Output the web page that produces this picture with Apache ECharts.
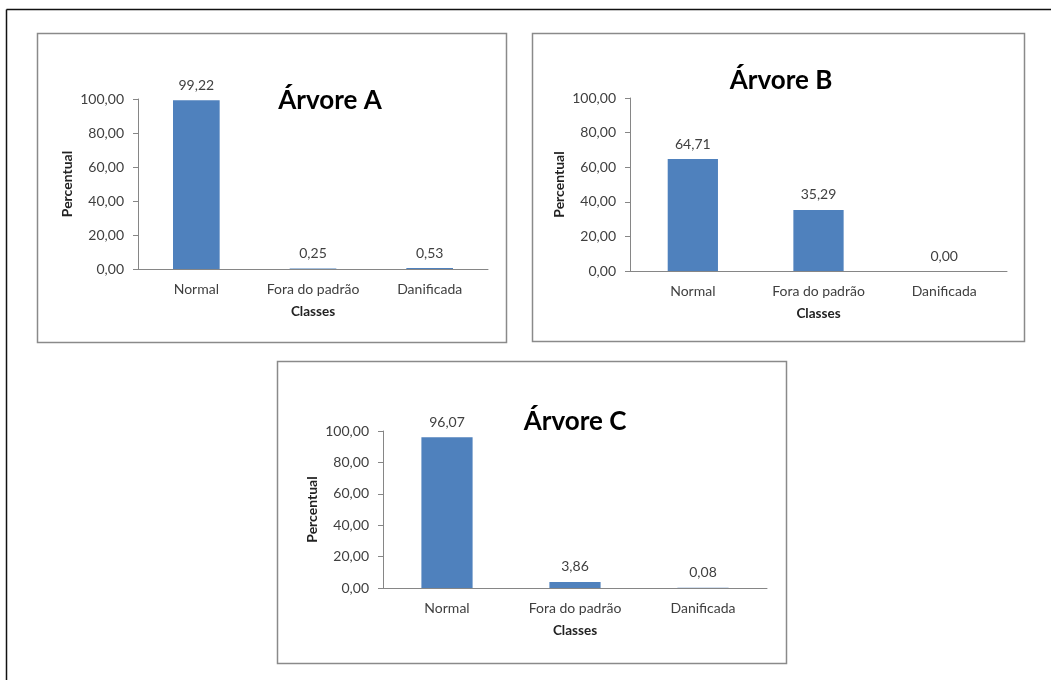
<!DOCTYPE html>
<html>
<head>
<meta charset="utf-8">
<script src="https://cdn.jsdelivr.net/npm/echarts@6/dist/echarts.min.js"></script>
<style>
  html, body { margin: 0; padding: 0; background: #fff; }
  #chart { width: 1051px; height: 680px; }
</style>
</head>
<body>
<div id="chart"></div>
<script>
// Share of fruit per quality class, for three trees
const categories = ['Normal', 'Fora do padrão', 'Danificada'];
const arvoreA = [99.22, 0.25, 0.53];
const arvoreB = [64.71, 35.29, 0.00];
const arvoreC = [96.07, 3.86, 0.08];
const panelTitles = ['Árvore A', 'Árvore B', 'Árvore C'];
const yTicks = { min: 0, max: 100, interval: 20 };
const yAxisName = 'Percentual';
const xAxisName = 'Classes';

const FONT = 'Lato, "Open Sans", sans-serif';
const BAR = '#4F81BD';
const TXT = '#404040';
const AXIS = '#868686';

const fmt = v => Number(v).toFixed(2).replace('.', ',');

// plot areas and surrounding frames of the three panels
const grids = [
  { left: 138, right: 563, top: 99, bottom: 411 },
  { left: 630, right: 44, top: 98, bottom: 409 },
  { left: 383, right: 284, top: 431, bottom: 92 }
];
const frames = [
  { x: 37, y: 33, w: 469, h: 309 },
  { x: 532, y: 33, w: 492, h: 308 },
  { x: 277, y: 361, w: 509, h: 302 }
];
const titlePos = [[330, 101], [781, 81], [575, 422]];
const seriesData = [arvoreA, arvoreB, arvoreC];

const xAxes = grids.map((g, i) => ({
  type: 'category',
  gridIndex: i,
  data: categories,
  axisLine: { show: true, lineStyle: { color: AXIS, width: 1 } },
  axisTick: { show: false },
  axisLabel: { color: TXT, fontFamily: FONT, fontSize: 14, margin: 13, interval: 0 },
  name: xAxisName,
  nameLocation: 'middle',
  nameGap: 36,
  nameTextStyle: { color: '#222', fontFamily: FONT, fontSize: 13.5, fontWeight: 'bold' }
}));

const yAxes = grids.map((g, i) => ({
  type: 'value',
  gridIndex: i,
  min: yTicks.min,
  max: yTicks.max,
  interval: yTicks.interval,
  axisLine: { show: true, lineStyle: { color: AXIS, width: 1 } },
  axisTick: { show: true, length: 5, lineStyle: { color: AXIS } },
  splitLine: { show: false },
  axisLabel: { color: TXT, fontFamily: FONT, fontSize: 14, margin: 14, formatter: fmt },
  name: yAxisName,
  nameLocation: 'middle',
  nameRotate: 90,
  nameGap: 64,
  nameTextStyle: { color: '#222', fontFamily: FONT, fontSize: 14, fontWeight: 'bold' }
}));

const series = seriesData.map((d, i) => ({
  type: 'bar',
  xAxisIndex: i,
  yAxisIndex: i,
  data: d,
  barWidth: '40%',
  itemStyle: { color: BAR },
  label: {
    show: true,
    position: 'top',
    distance: 8,
    color: TXT,
    fontFamily: FONT,
    fontSize: 14,
    formatter: p => fmt(p.value)
  },
  animation: false
}));

const graphics = [];
// page frame: top and left rules
graphics.push({ type: 'line', shape: { x1: 6.5, y1: 9.5, x2: 1051, y2: 9.5 }, style: { stroke: '#111', lineWidth: 1.5 } });
graphics.push({ type: 'line', shape: { x1: 6.5, y1: 9.5, x2: 6.5, y2: 680 }, style: { stroke: '#111', lineWidth: 1.5 } });
frames.forEach(f => {
  graphics.push({
    type: 'rect',
    shape: { x: f.x + 0.5, y: f.y + 0.5, width: f.w, height: f.h },
    style: { fill: null, stroke: '#8a8a8a', lineWidth: 1.5 },
    z: -1
  });
});
panelTitles.forEach((t, i) => {
  graphics.push({
    type: 'text',
    x: titlePos[i][0],
    y: titlePos[i][1],
    style: {
      text: t,
      fill: '#000',
      font: 'bold 26px ' + FONT,
      align: 'center',
      verticalAlign: 'middle'
    }
  });
});

const chart = echarts.init(document.getElementById('chart'), null, { renderer: 'canvas' });
chart.setOption({
  animation: false,
  backgroundColor: '#fff',
  grid: grids.map(g => Object.assign({ containLabel: false }, g)),
  xAxis: xAxes,
  yAxis: yAxes,
  series: series,
  graphic: graphics
});
</script>
</body>
</html>
